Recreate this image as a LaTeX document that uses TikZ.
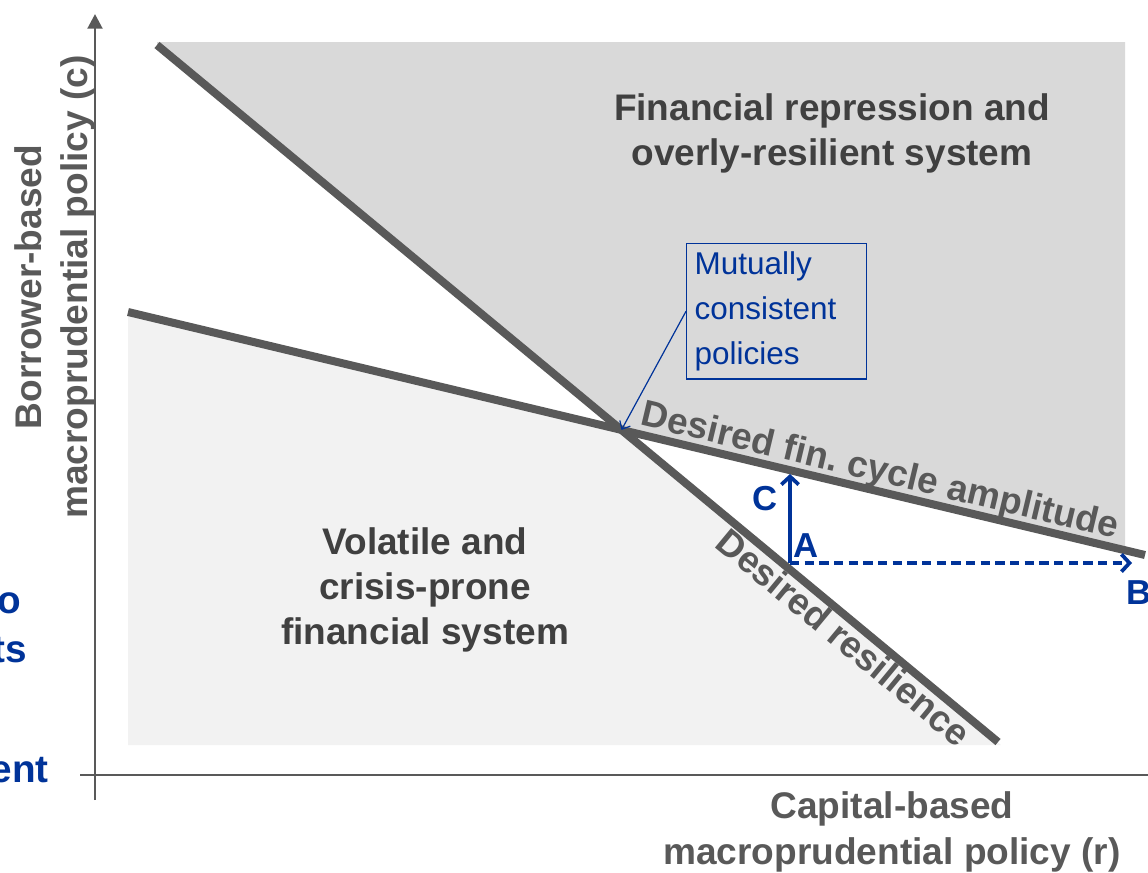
\documentclass[tikz,border=0pt]{standalone}
\usepackage{fontspec}
\setmainfont{Liberation Sans}
\usetikzlibrary{arrows.meta}
\definecolor{policyblue}{RGB}{0,51,153}
\definecolor{linegrey}{RGB}{89,89,89}
\definecolor{textgrey}{RGB}{64,64,64}
\definecolor{upperfill}{RGB}{217,217,217}
\definecolor{lowerfill}{RGB}{242,242,242}
\tikzset{
    policy/.style={draw=linegrey, line width=6pt},
    axis/.style={draw=linegrey, line width=2.2pt},
    region/.style={font=\bfseries\fontsize{27.75}{33.75}\selectfont, text=textgrey, align=center},
    axislabel/.style={font=\bfseries\fontsize{27.8}{34.5}\selectfont, text=linegrey, align=center},
    curvelabel/.style={font=\bfseries\fontsize{27.75}{33}\selectfont, text=linegrey, sloped, inner sep=0pt},
    move/.style={draw=policyblue, line width=2.8pt, -{Straight Barb[length=6pt,width=13pt]}},
    point/.style={font=\bfseries\fontsize{26}{30}\selectfont, text=policyblue},
    note/.style={draw=policyblue, line width=0.9pt, text=policyblue,
        font=\fontsize{23.6}{33.75}\selectfont, align=left, text width=123pt,
        inner sep=6pt, minimum height=99pt},
    side/.style={font=\bfseries\fontsize{29}{37}\selectfont, text=policyblue,
        anchor=base east, inner sep=0pt}
}

\begin{document}
\begin{tikzpicture}[x=0.75pt, y=-0.75pt]
    \useasboundingbox (0,0) rectangle (1148,872);

    % end points of the two policy lines
    \coordinate (res0) at (157,45);
    \coordinate (res1) at (998,742);
    \coordinate (amp0) at (128,312);
    \coordinate (amp1) at (1145,555);
    \coordinate (X) at (intersection of res0--res1 and amp0--amp1);

    % shaded regions
    \fill[upperfill] (res0) -- (157,42) -- (1125,42) -- (1125,550) -- (X) -- cycle;
    \fill[lowerfill] (amp0) -- (X) -- (1001,745) -- (128,745) -- cycle;

    % axes
    \draw[axis, -{Triangle[length=11pt,width=11pt]}] (95,800) -- (95,14);
    \draw[axis] (80,775) -- (1148,775);

    % policy lines
    \draw[policy] (res0) -- (res1)
        node[curvelabel, below, pos=0.83] (reslab) {Desired resilience};
    \draw[policy] (amp0) -- (amp1)
        node[curvelabel, above, pos=0.735, yshift=-2pt] (amplab) {Desired fin.\ cycle amplitude};

    % regions
    \node[region] (upper) at (832,133) {Financial repression and\\overly-resilient system};
    \node[region] (lower) at (425,590) {Volatile and\\crisis-prone\\financial system};

    % callout
    \node[note, anchor=north west] (mc) at (686,243) {Mutually\\consistent\\policies};
    \draw[policyblue, line width=0.9pt, -{Straight Barb[length=5pt,width=9pt]}] (mc.west) -- (X);

    % moves from A
    \coordinate (A) at (790,563);
    \coordinate (C) at (790,474);
    \coordinate (B) at (1132,563);
    \draw[move] (A) -- (C);
    \draw[move, dash pattern=on 7pt off 4pt] (A) -- (B);
    \node[point] (la) at (806,546) {A};
    \node[point] (lc) at (765,499) {C};
    \node[point] (lb) at (1139,593) {B};

    % axis labels
    \node[axislabel, rotate=90] (ylab) at (55,287) {Borrower-based\\macroprudential policy (c)};
    \node[axislabel] (xlab) at (892,832) {Capital-based\\macroprudential policy (r)};

    % text running in from the left
    \node[side] (s1) at (21,613) {o};
    \node[side] (s2) at (27,662) {ts};
    \node[side] (s3) at (49,782) {ent};
\end{tikzpicture}
\end{document}
